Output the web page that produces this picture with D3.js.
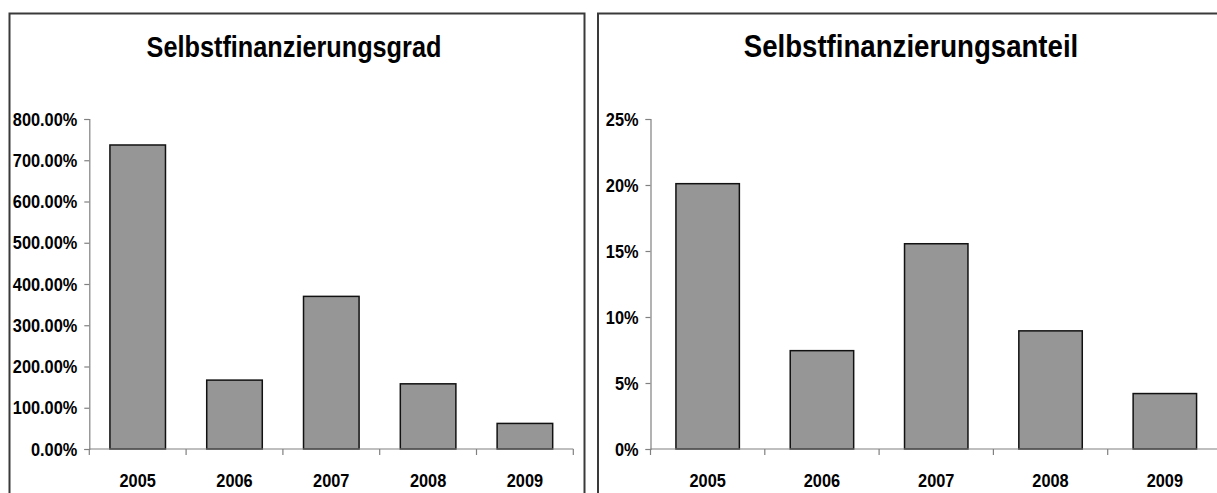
<!DOCTYPE html>
<html>
<head>
<meta charset="utf-8">
<script src="https://cdn.jsdelivr.net/npm/d3@7"></script>
<style>
  html, body { margin: 0; padding: 0; background: #fff; }
  svg { display: block; }
  text { font-family: "Liberation Sans", Arial, sans-serif; font-weight: bold; fill: #000; }
</style>
</head>
<body>
<svg id="chart" width="1217" height="493"></svg>
<script>
// Years shown on both charts
const years = ["2005", "2006", "2007", "2008", "2009"];

// Selbstfinanzierungsgrad in percent
const gradValues = [737, 167, 370, 158, 62];
const gradTicks = [0, 100, 200, 300, 400, 500, 600, 700, 800];

// Selbstfinanzierungsanteil in percent
const anteilValues = [20.1, 7.45, 15.55, 8.95, 4.2];
const anteilTicks = [0, 5, 10, 15, 20, 25];

const svg = d3.select("#chart");

// squeeze text horizontally to get a narrow bold face
function narrow(sel, factor) {
  sel.each(function () {
    const w = this.getComputedTextLength();
    d3.select(this).attr("textLength", w * factor).attr("lengthAdjust", "spacingAndGlyphs");
  });
}

function drawPanel(cfg) {
  const g = svg.append("g");

  // chart frame
  g.append("rect")
    .attr("x", cfg.frame[0]).attr("y", cfg.frame[1])
    .attr("width", cfg.frame[2]).attr("height", cfg.frame[3])
    .attr("fill", "#fff").attr("stroke", "#3a3a3a").attr("stroke-width", 2);

  g.append("text")
    .attr("x", cfg.titleX).attr("y", 57)
    .attr("text-anchor", "middle")
    .style("font-size", cfg.titleSize + "px")
    .text(cfg.title)
    .call(narrow, cfg.titleSqueeze);

  const x = d3.scaleBand().domain(years).range(cfg.xRange).paddingInner(cfg.pad).paddingOuter(cfg.pad / 2);
  const y = d3.scaleLinear().domain(cfg.yDomain).range([449, 119]);

  // bars
  g.selectAll("rect.bar").data(cfg.values).join("rect")
    .attr("class", "bar")
    .attr("x", (d, i) => x(years[i]))
    .attr("width", x.bandwidth())
    .attr("y", d => y(d))
    .attr("height", d => y(0) - y(d))
    .attr("fill", "#969696")
    .attr("stroke", "#111")
    .attr("stroke-width", 1.5);

  // y axis
  const yAxis = d3.axisLeft(y).tickValues(cfg.ticks).tickSize(5).tickPadding(7).tickFormat(cfg.fmt);
  const ya = g.append("g").attr("transform", `translate(${cfg.xRange[0]},0)`).call(yAxis);
  ya.select(".domain").attr("stroke", "#808080").attr("stroke-width", 1.2);
  ya.selectAll(".tick line").attr("stroke", "#808080").attr("stroke-width", 1.2);
  ya.selectAll(".tick text").style("font-size", "19px").attr("fill", "#000").call(narrow, 0.86);

  // x axis with ticks between categories
  const xa = g.append("g").attr("transform", "translate(0,449)");
  xa.append("line")
    .attr("x1", cfg.xRange[0]).attr("x2", cfg.xRange[1])
    .attr("stroke", "#808080").attr("stroke-width", 1.2);
  const step = x.step();
  const bounds = d3.range(years.length + 1).map(i => cfg.xRange[0] + i * step);
  xa.selectAll("line.tk").data(bounds).join("line")
    .attr("class", "tk")
    .attr("x1", d => d).attr("x2", d => d)
    .attr("y1", 0).attr("y2", 6)
    .attr("stroke", "#808080").attr("stroke-width", 1.2);
  xa.selectAll("text").data(years).join("text")
    .attr("x", d => x(d) + x.bandwidth() / 2)
    .attr("y", 38)
    .attr("text-anchor", "middle")
    .style("font-size", "19px")
    .text(d => d)
    .call(narrow, 0.86);
}

drawPanel({
  frame: [9.5, 13.5, 575, 500],
  title: "Selbstfinanzierungsgrad",
  titleX: 294,
  titleSize: 30,
  titleSqueeze: 0.842,
  xRange: [89.3, 573.3],
  pad: 0.426,
  yDomain: [0, 800],
  ticks: gradTicks,
  values: gradValues,
  fmt: d => d.toFixed(2) + "%"
});

drawPanel({
  frame: [598, 13.5, 640, 500],
  title: "Selbstfinanzierungsanteil",
  titleX: 911,
  titleSize: 32,
  titleSqueeze: 0.863,
  xRange: [650.5, 1222],
  pad: 0.445,
  yDomain: [0, 25],
  ticks: anteilTicks,
  values: anteilValues,
  fmt: d => d + "%"
});
</script>
</body>
</html>
